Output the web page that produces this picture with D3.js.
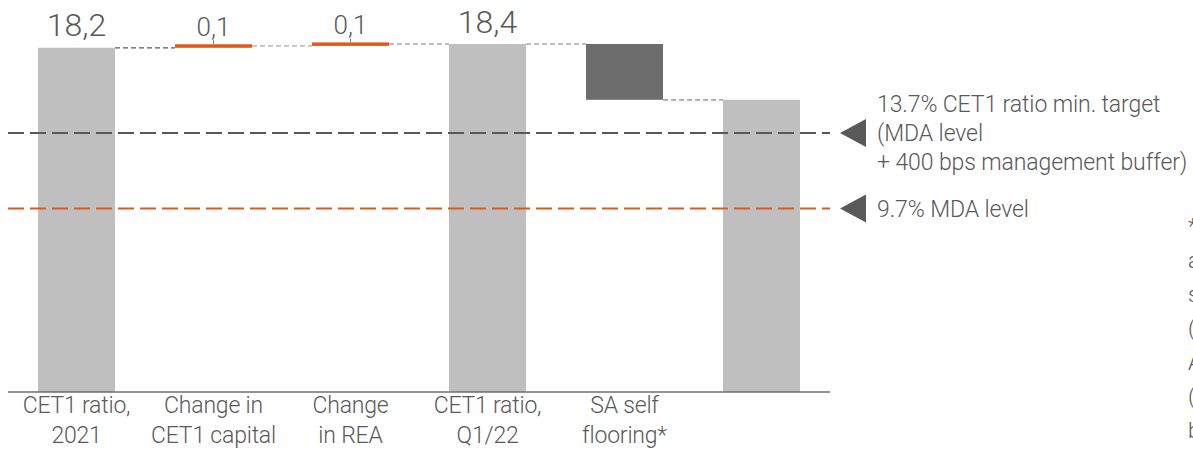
<!DOCTYPE html>
<html>
<head>
<meta charset="utf-8">
<script src="https://cdn.jsdelivr.net/npm/d3@7"></script>
<style>
    body { margin: 0; background: #fff; }
    svg text { font-family: Roboto, "Liberation Sans", sans-serif; font-weight: 300; fill: #595959; }
</style>
</head>
<body>
<div id="chart"></div>
<script>
// waterfall steps, left to right
var categories = [["CET1 ratio,", "2021"], ["Change in", "CET1 capital"], ["Change", "in REA"], ["CET1 ratio,", "Q1/22"], ["SA self", "flooring*"], []];
var stepValues = [18.2, 0.1, 0.1, 18.4, -2.95, 15.45];
var stepTypes = ["total", "delta", "delta", "total", "delta", "total"];
var valueLabels = ["18,2", "0,1", "0,1", "18,4", "", ""];

// reference levels on the right
var levelValues = [13.7, 9.7];
var levelLabels = [["13.7% CET1 ratio min. target", "(MDA level", "+ 400 bps management buffer)"], ["9.7% MDA level"]];

// footnote, cut off at the right edge
var footnoteLines = ["* Estimated", "as of", "self", "(", "A", "(", "b"];

(function() {
    var width = 1193,
        height = 458,
        plotLeft = 8,
        plotRight = 830,
        baseY = 392,
        grey = "#bfbfbf",
        darkGrey = "#6d6d6d",
        orange = "#e0581a",
        textColor = "#595959";

    var svg = d3.select("#chart")
                .append("svg")
                .attr("width", width)
                .attr("height", height);

    var x = d3.scaleBand()
              .domain(d3.range(categories.length))
              .range([plotLeft, plotRight])
              .paddingInner(0.438)
              .paddingOuter(0.219);

    var y = d3.scaleLinear()
              .domain([0, 18.4])
              .range([baseY, 44]);

    // running start / end of every step
    var bars = [],
        level = 0;
    for (var i = 0; i < stepValues.length; i += 1) {
        if (stepTypes[i] === "total") {
            bars.push({i: i, from: 0, to: stepValues[i], type: "total"});
            level = stepValues[i];
        } else {
            bars.push({i: i, from: level, to: level + stepValues[i], type: stepValues[i] < 0 ? "down" : "up"});
            level += stepValues[i];
        }
    }

    svg.selectAll(".bar")
       .data(bars)
       .enter()
       .append("rect")
       .attr("class", "bar")
       .attr("x", function(d) { return x(d.i); })
       .attr("width", x.bandwidth())
       .attr("y", function(d) {
           var top = y(Math.max(d.from, d.to)),
               h = Math.abs(y(d.from) - y(d.to));
           return d.type === "up" ? y(d.from) - Math.max(h, 3.5) : top;
       })
       .attr("height", function(d) {
           var h = Math.abs(y(d.from) - y(d.to));
           return d.type === "up" ? Math.max(h, 3.5) : h;
       })
       .style("fill", function(d) {
           if (d.type === "up") { return orange; }
           if (d.type === "down") { return darkGrey; }
           return grey;
       });

    // level lines run over the bars
    var levelColors = [textColor, orange];
    levelValues.forEach(function(v, k) {
        svg.append("line")
           .attr("x1", plotLeft)
           .attr("x2", plotRight)
           .attr("y1", y(v))
           .attr("y2", y(v))
           .style("stroke", levelColors[k])
           .style("stroke-width", 2)
           .style("stroke-dasharray", "16,6");
    });

    // connectors between the steps
    var connectorColors = ["#5a5a5a", "#aaaaaa", "#aaaaaa", "#aaaaaa", "#8a8a8a"];
    for (var j = 0; j < bars.length - 1; j += 1) {
        var cy = y(bars[j].to);
        svg.append("line")
           .attr("x1", x(j) + x.bandwidth())
           .attr("x2", x(j + 1))
           .attr("y1", cy)
           .attr("y2", cy)
           .style("stroke", connectorColors[j])
           .style("stroke-width", 1.3)
           .style("stroke-dasharray", "5,3");
    }

    // baseline
    svg.append("line")
       .attr("x1", plotLeft)
       .attr("x2", plotRight)
       .attr("y1", baseY)
       .attr("y2", baseY)
       .style("stroke", "#6f6f6f")
       .style("stroke-width", 1.5);

    // value labels
    bars.forEach(function(d) {
        var label = valueLabels[d.i];
        if (!label) { return; }
        var cx = x(d.i) + x.bandwidth() / 2,
            top = d.type === "up" ? y(d.from) - 3.5 : y(d.to);
        if (d.type === "up") {
            svg.append("line")
               .attr("x1", cx).attr("x2", cx)
               .attr("y1", top - 4).attr("y2", top)
               .style("stroke", "#7f7f7f")
               .style("stroke-width", 1);
            svg.append("text")
               .attr("x", cx)
               .attr("y", top - 8.5)
               .attr("text-anchor", "middle")
               .style("font-size", "26px")
               .text(label);
        } else {
            svg.append("text")
               .attr("x", cx)
               .attr("y", top - 11.5)
               .attr("text-anchor", "middle")
               .style("font-size", "32px")
               .text(label);
        }
    });

    // category labels
    var catText = svg.selectAll(".catLabel")
                     .data(categories)
                     .enter()
                     .append("text")
                     .attr("class", "catLabel")
                     .attr("text-anchor", "middle")
                     .attr("x", function(d, i) { return x(i) + x.bandwidth() / 2; })
                     .attr("y", 413)
                     .style("font-size", "23px")
                     .style("letter-spacing", "-0.2px");

    catText.selectAll("tspan")
           .data(function(d) { return d; })
           .enter()
           .append("tspan")
           .attr("x", function() { return d3.select(this.parentNode).attr("x"); })
           .attr("dy", function(d, i) { return i === 0 ? 0 : 30; })
           .text(function(d) { return d; });

    // level markers and notes
    var lineGap = 29;
    levelValues.forEach(function(v, k) {
        var ly = y(v);
        svg.append("path")
           .attr("d", "M840," + ly + "L866," + (ly - 14) + "L866," + (ly + 14) + "Z")
           .style("fill", "#595959");

        var lines = levelLabels[k],
            firstBase = ly + 8.5 - ((lines.length - 1) / 2) * lineGap;
        var t = svg.append("text")
                   .attr("x", 877)
                   .attr("y", firstBase)
                   .style("font-size", "23px")
                   .style("letter-spacing", "-0.1px");
        lines.forEach(function(s, n) {
            t.append("tspan")
             .attr("x", 877)
             .attr("dy", n === 0 ? 0 : lineGap)
             .text(s);
        });
    });

    // footnote, mostly outside the picture
    var foot = svg.append("text")
                  .attr("x", 1188)
                  .attr("y", 234)
                  .style("font-size", "22px");
    footnoteLines.forEach(function(s, n) {
        foot.append("tspan")
            .attr("x", 1188)
            .attr("dy", n === 0 ? 0 : 34)
            .text(s);
    });
})();
</script>
</body>
</html>
